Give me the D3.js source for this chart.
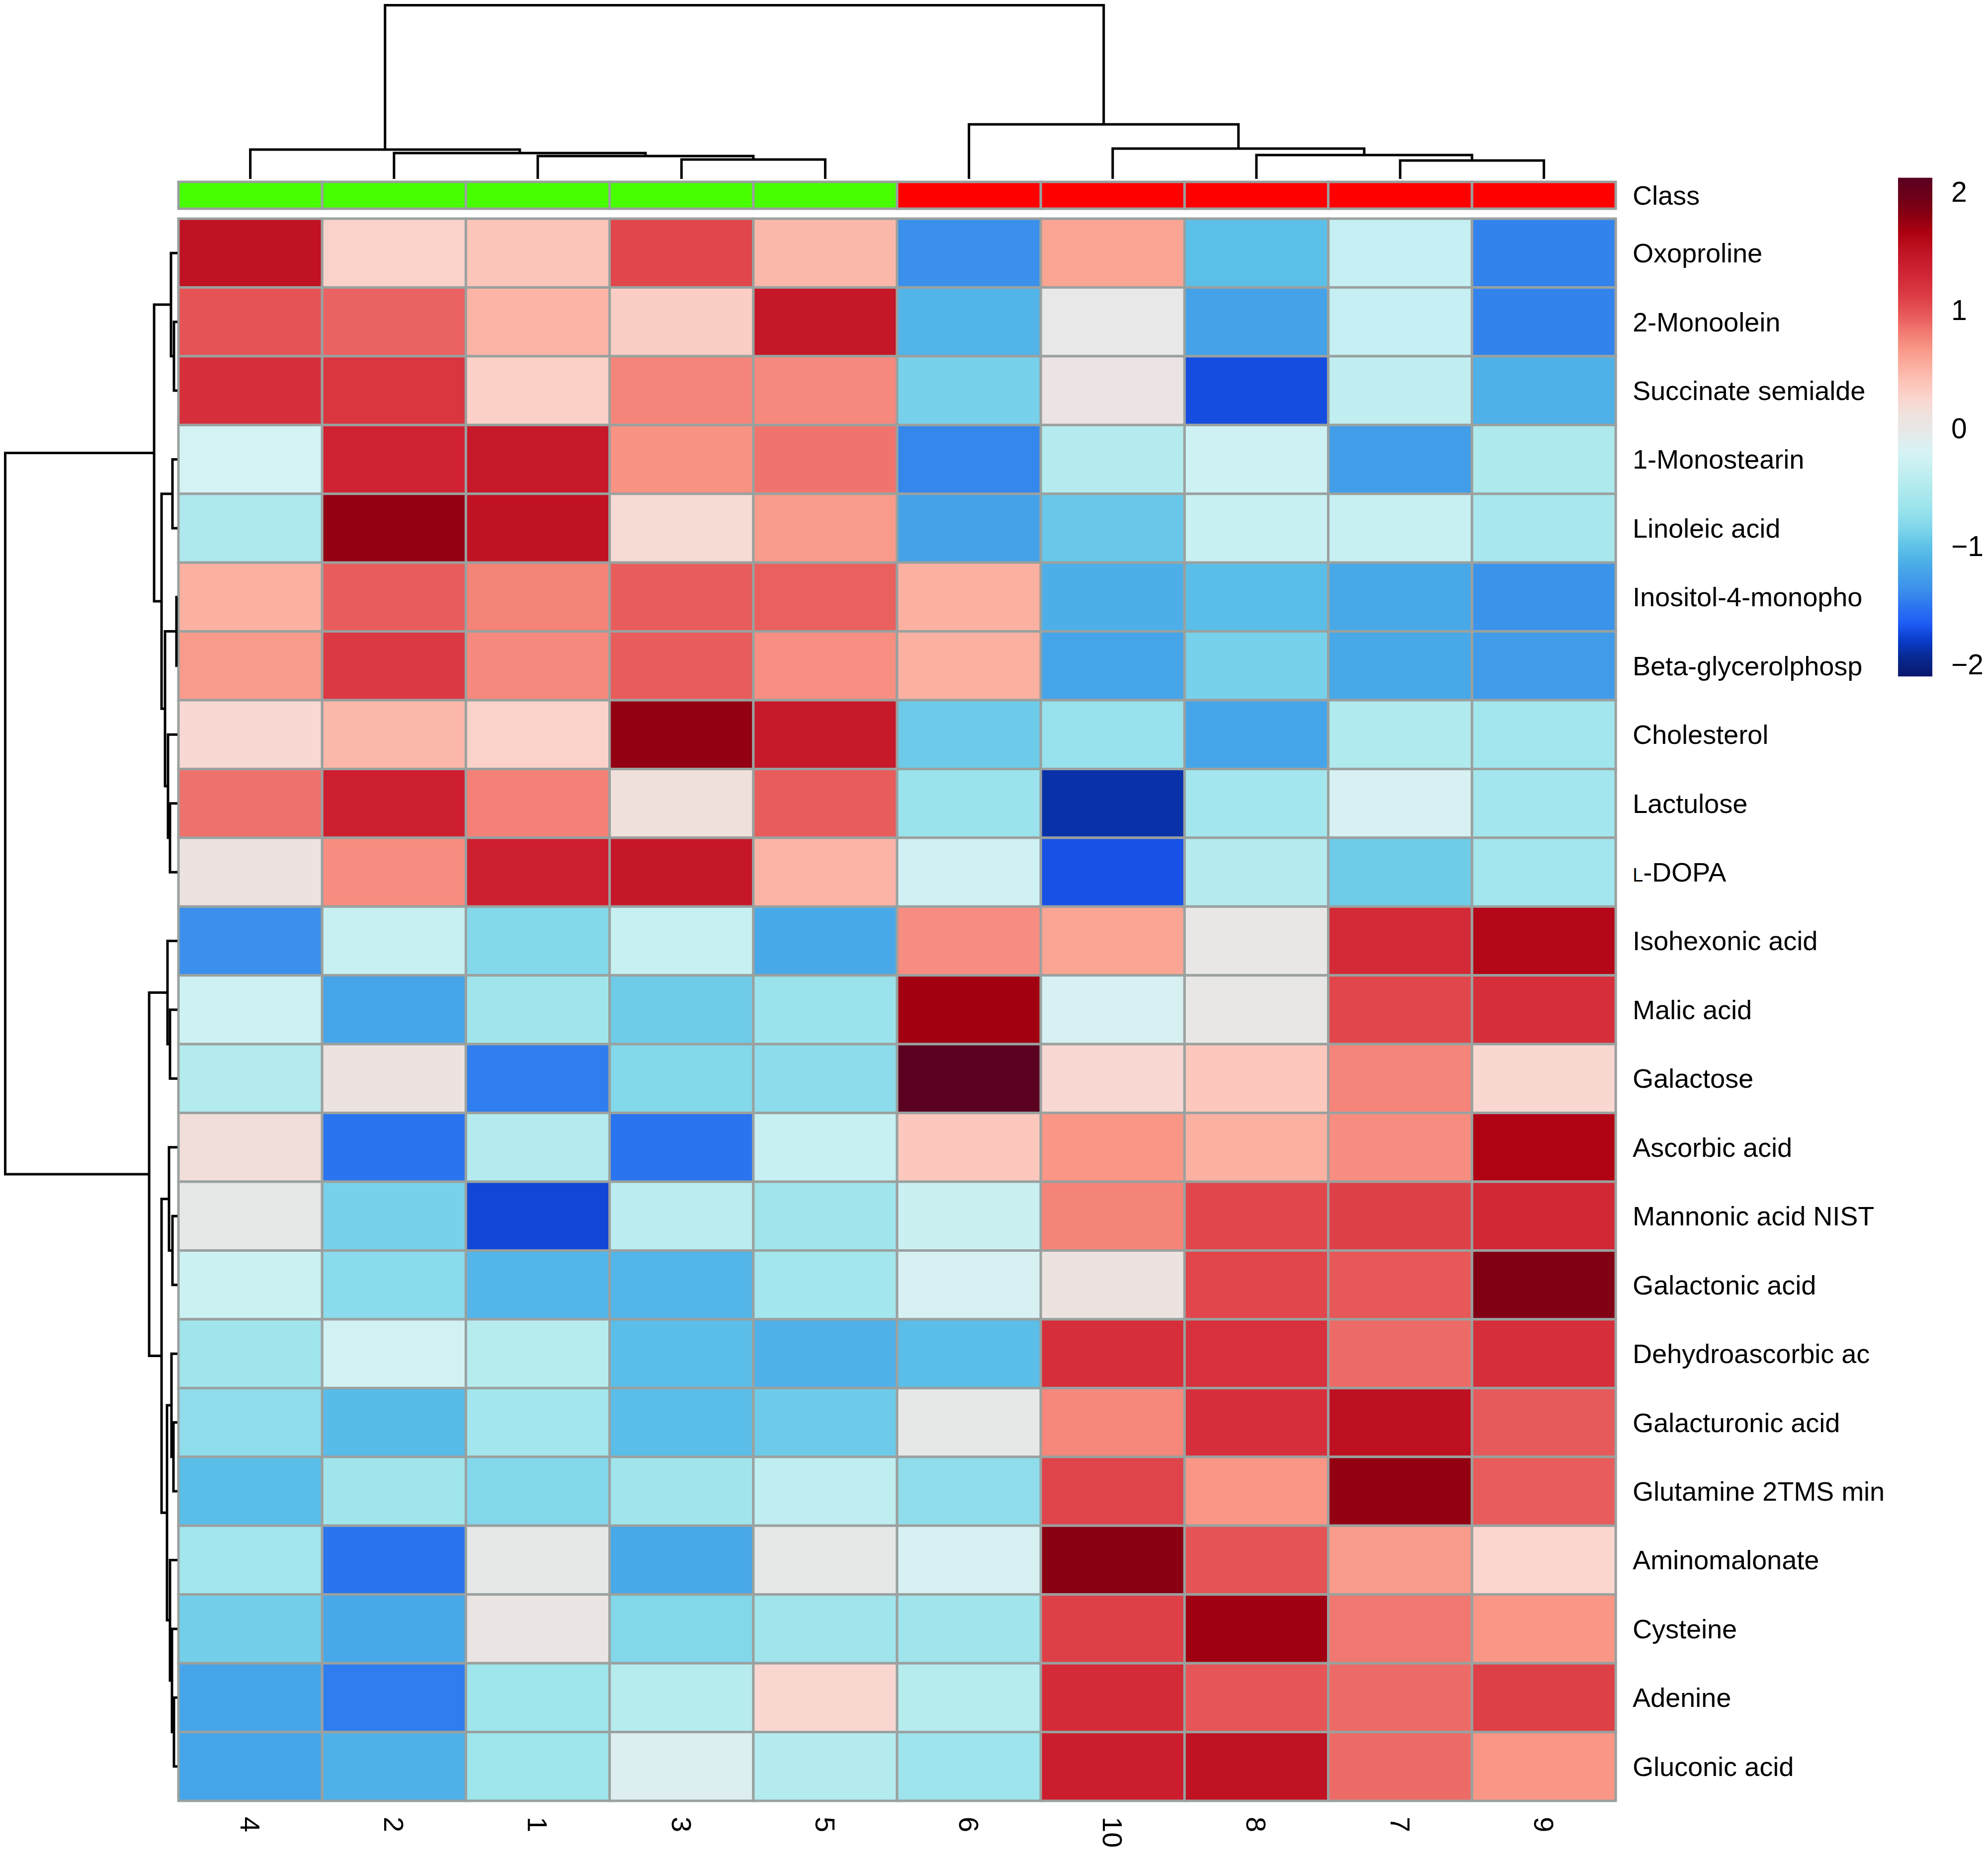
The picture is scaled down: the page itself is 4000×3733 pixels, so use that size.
<!DOCTYPE html>
<html><head><meta charset="utf-8">
<script src="https://cdn.jsdelivr.net/npm/d3@7"></script>
<style>body{margin:0;background:#fff}</style>
</head><body>
<svg id="chart" width="4000" height="3733" xmlns="http://www.w3.org/2000/svg"></svg>
<script>
// ---------------- data ----------------
const columns = ["4","2","1","3","5","6","10","8","7","9"];
const columnClass = ["A","A","A","A","A","B","B","B","B","B"];
const classNames = ["A","B"];
const rowNames = [
  "Oxoproline","2-Monoolein","Succinate semialde","1-Monostearin","Linoleic acid",
  "Inositol-4-monopho","Beta-glycerolphosp","Cholesterol","Lactulose","L-DOPA",
  "Isohexonic acid","Malic acid","Galactose","Ascorbic acid","Mannonic acid NIST",
  "Galactonic acid","Dehydroascorbic ac","Galacturonic acid","Glutamine 2TMS min",
  "Aminomalonate","Cysteine","Adenine","Gluconic acid"
];
// z-scores, columns in display order 4,2,1,3,5,6,10,8,7,9
const values = [
  [ 1.48, 0.28, 0.38, 1.07, 0.47,-1.35, 0.60,-1.02,-0.35,-1.42],
  [ 1.00, 0.92, 0.50, 0.32, 1.42,-1.10,-0.02,-1.22,-0.35,-1.42],
  [ 1.22, 1.17, 0.30, 0.76, 0.74,-0.88, 0.05,-1.72,-0.38,-1.12],
  [-0.20, 1.30, 1.40, 0.70, 0.84,-1.40,-0.47,-0.27,-1.25,-0.52],
  [-0.52, 1.76, 1.48, 0.20, 0.65,-1.22,-0.95,-0.32,-0.33,-0.58],
  [ 0.52, 0.95, 0.77, 0.95, 0.93, 0.52,-1.13,-1.03,-1.17,-1.32],
  [ 0.65, 1.15, 0.74, 0.95, 0.71, 0.52,-1.20,-0.88,-1.18,-1.27],
  [ 0.22, 0.48, 0.28, 1.77, 1.40,-0.93,-0.70,-1.20,-0.50,-0.62],
  [ 0.85, 1.33, 0.78, 0.12, 0.95,-0.68,-1.88,-0.60,-0.18,-0.60],
  [ 0.07, 0.72, 1.33, 1.42, 0.50,-0.25,-1.70,-0.47,-0.92,-0.60],
  [-1.35,-0.34,-0.82,-0.34,-1.17, 0.72, 0.60, 0.00, 1.25, 1.58],
  [-0.27,-1.20,-0.63,-0.92,-0.68, 1.70,-0.18, 0.00, 1.07, 1.22],
  [-0.47, 0.07,-1.45,-0.82,-0.77, 2.118,0.22, 0.36, 0.76, 0.23],
  [ 0.15,-1.50,-0.47,-1.50,-0.34, 0.36, 0.68, 0.52, 0.72, 1.63],
  [-0.03,-0.88,-1.75,-0.42,-0.63,-0.30, 0.77, 1.07, 1.10, 1.27],
  [-0.29,-0.78,-1.08,-1.08,-0.60,-0.18, 0.07, 1.07, 0.97, 1.85],
  [-0.63,-0.23,-0.45,-1.03,-1.12,-1.03, 1.22, 1.20, 0.88, 1.22],
  [-0.75,-1.05,-0.60,-1.03,-0.93,-0.03, 0.75, 1.22, 1.50, 0.96],
  [-1.03,-0.63,-0.83,-0.63,-0.40,-0.75, 1.08, 0.68, 1.77, 0.95],
  [-0.60,-1.50,-0.03,-1.18,-0.03,-0.18, 1.80, 1.00, 0.65, 0.25],
  [-0.90,-1.17, 0.03,-0.83,-0.63,-0.63, 1.10, 1.71, 0.82, 0.68],
  [-1.20,-1.45,-0.65,-0.45, 0.24,-0.45, 1.24, 0.98, 0.88, 1.10],
  [-1.20,-1.12,-0.65,-0.13,-0.47,-0.66, 1.36, 1.48, 0.88, 0.68]
];
// hclust-style merges: negative = leaf (display index+1), positive = earlier merge (1-based); [a, b, height]
const rowMerges = [
  [-6,-7,0.2],[-2,-3,0.7],[-22,-23,0.7],[-18,-19,0.8],[-4,-5,1.0],[-15,-16,1.0],
  [-21,3,1.1],[-17,4,1.2],[-1,2,1.3],[-9,-10,1.5],[-12,-13,1.5],[-20,7,1.5],
  [-14,6,1.7],[-8,10,1.9],[-11,11,2.0],[8,12,2.1],[1,14,2.5],[5,17,3.2],
  [13,16,3.2],[9,18,4.7],[15,19,5.7],[20,21,34.7]
];
const colMerges = [
  [-9,-10,3.7],[-4,-5,3.9],[-3,2,4.6],[-8,1,4.8],[-2,3,5.2],[-1,5,5.9],
  [-7,4,6.1],[-6,7,11.0],[6,8,35.0]
];
const paletteStops = [-2.10,-1.95,-1.80,-1.65,-1.50,-1.35,-1.18,-1.00,-0.84,-0.67,-0.50,-0.33,-0.19,-0.03,0.10,0.25,0.39,0.53,0.67,0.81,0.95,1.10,1.30,1.50,1.65,1.81,1.95,2.118];
const paletteColors = ["#0B196C","#08288F","#0A3CC8","#1E5CF5","#2A74F0","#3A90EA","#48A8E8","#5EC2E8","#80D6EA","#9CE4EC","#B0EAEE","#C8F0F2","#D6F2F4","#E6E8E8","#EEE2DE","#FAD6CF","#FCC4B8","#FBAFA0","#F99888","#F27A72","#E85C5C","#DE4048","#D02232","#BE1020","#AE0010","#880012","#6E0018","#5A0020"];
const legendTicks = [2,1,0,-1,-2];

// ---------------- drawing ----------------
const svg = d3.select("#chart");
svg.append("rect").attr("width",4000).attr("height",3733).attr("fill","#fff");
const FONT = "'Liberation Sans', Arial, Helvetica, sans-serif";
const GRID = "#9AA19F";

const x = d3.scaleBand().domain(columns).range([359, 3251]);
const y = d3.scaleBand().domain(rowNames).range([440, 3624]);
const color = d3.scaleLinear().domain(paletteStops).range(paletteColors).interpolate(d3.interpolateRgb).clamp(true);
const classColor = d3.scaleOrdinal().domain(classNames).range(["#48FF00","#FF0000"]);

// cells
const cells = [];
values.forEach((row, i) => row.forEach((v, j) => cells.push({r: rowNames[i], c: columns[j], v})));
svg.append("g").selectAll("rect").data(cells).join("rect")
  .attr("x", d => x(d.c)).attr("y", d => y(d.r))
  .attr("width", x.bandwidth()).attr("height", y.bandwidth())
  .attr("fill", d => color(d.v)).attr("stroke", GRID).attr("stroke-width", 5);

// class annotation
svg.append("g").selectAll("rect").data(columns).join("rect")
  .attr("x", d => x(d)).attr("y", 366).attr("width", x.bandwidth()).attr("height", 54)
  .attr("fill", (d, i) => classColor(columnClass[i])).attr("stroke", GRID).attr("stroke-width", 5);

svg.append("text").attr("x", 3285).attr("y", 393).attr("dy", "0.35em")
  .attr("font-family", FONT).attr("font-size", 54).attr("fill", "#000").text("Class");

// row labels
const rl = svg.append("g").attr("font-family", FONT).attr("font-size", 54).attr("fill", "#000");
rowNames.forEach(name => {
  const t = rl.append("text").attr("x", 3285).attr("y", y(name) + y.bandwidth()/2).attr("dy", "0.35em");
  if (name === "L-DOPA") {
    t.append("tspan").attr("font-size", 38).text("L");
    t.append("tspan").text("-DOPA");
  } else t.text(name);
});

// column labels (rotated)
svg.append("g").selectAll("text").data(columns).join("text")
  .attr("transform", d => `translate(${x(d) + x.bandwidth()/2},3656) rotate(90)`)
  .attr("dy", "0.35em").attr("text-anchor", "start")
  .attr("font-family", FONT).attr("font-size", 56).attr("fill", "#000").text(d => d);

// dendrograms
function buildNodes(merges, leafPos) {
  const nodes = [null];
  const get = ref => ref < 0 ? {p: leafPos(-ref - 1), h: 0} : nodes[ref];
  merges.forEach(([a, b, h]) => {
    const A = get(a), B = get(b);
    nodes.push({p: (A.p + B.p) / 2, h, A, B});
  });
  return nodes.slice(1);
}
// column tree (top)
const colNodes = buildNodes(colMerges, i => x(columns[i]) + x.bandwidth()/2);
const hy = d3.scaleLinear().domain([0, d3.max(colMerges, d => d[2])]).range([360, 10.5]);
svg.append("g").selectAll("path").data(colNodes).join("path")
  .attr("d", n => `M${n.A.p},${hy(n.A.h)}V${hy(n.h)}H${n.B.p}V${hy(n.B.h)}`)
  .attr("fill", "none").attr("stroke", "#000").attr("stroke-width", 5);
// row tree (left)
const rowNodes = buildNodes(rowMerges, i => y(rowNames[i]) + y.bandwidth()/2);
const hx = d3.scaleLinear().domain([0, d3.max(rowMerges, d => d[2])]).range([357, 10.5]);
svg.append("g").selectAll("path").data(rowNodes).join("path")
  .attr("d", n => `M${hx(n.A.h)},${n.A.p}H${hx(n.h)}V${n.B.p}H${hx(n.B.h)}`)
  .attr("fill", "none").attr("stroke", "#000").attr("stroke-width", 5);

// legend colour bar
const ly = d3.scaleLinear().domain([paletteStops[0], paletteStops[paletteStops.length-1]]).range([1361, 358]);
const nStrips = 500;
const strips = d3.range(nStrips).map(i => paletteStops[0] + (i + 0.5) * (ly.domain()[1] - ly.domain()[0]) / nStrips);
const sh = (1361 - 358) / nStrips;
svg.append("g").selectAll("rect").data(strips).join("rect")
  .attr("x", 3819).attr("width", 69)
  .attr("y", d => ly(d) - sh/2 - 0.3).attr("height", sh + 0.6)
  .attr("fill", d => color(d));
svg.append("g").selectAll("text").data(legendTicks).join("text")
  .attr("x", 3926).attr("y", d => ly(d)).attr("dy", "0.35em")
  .attr("font-family", FONT).attr("font-size", 57).attr("fill", "#000")
  .text(d => d < 0 ? "\u2212" + Math.abs(d) : String(d));
</script>
</body></html>
